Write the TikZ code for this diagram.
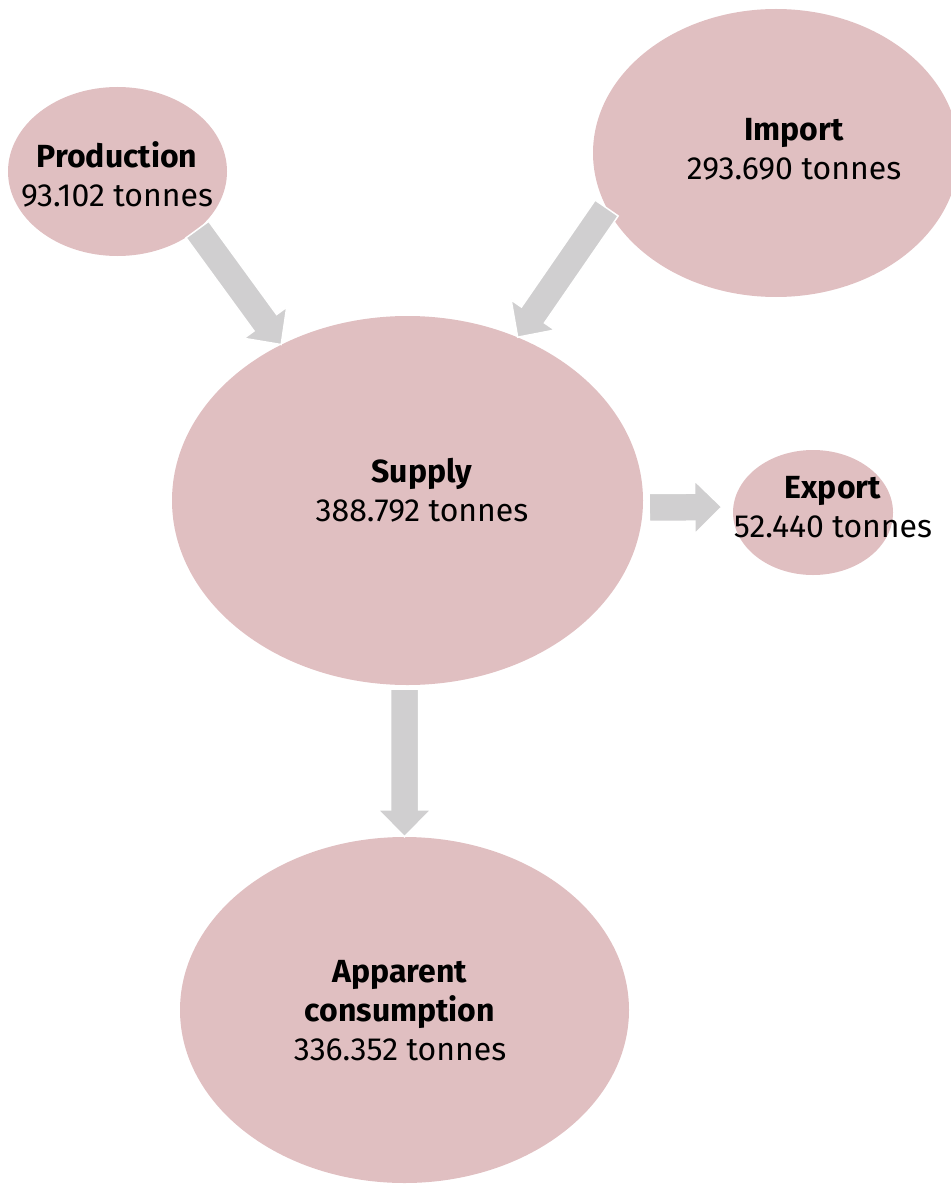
\documentclass[tikz,border=0pt]{standalone}
\usepackage{fontspec}
\setmainfont{Fira Sans}
\usetikzlibrary{shapes.geometric,calc}

\definecolor{bubblepink}{HTML}{E0BFC1}
\definecolor{flowgrey}{HTML}{D0CFD0}

\newcommand\flowarrow[2]{%
  \coordinate (hb) at ($(#2)!27pt!(#1)$);
  \fill[flowgrey,draw=white,line width=1.5pt]
    ($(#1)!14pt!90:(hb)$) -- ($(hb)!14pt!-90:(#1)$) -- ($(hb)!26.5pt!-90:(#1)$)
    -- (#2) -- ($(hb)!26.5pt!90:(#1)$) -- ($(hb)!14pt!90:(#1)$)
    -- ($(#1)!14pt!-90:(hb)$) -- cycle;}

\begin{document}
\begin{tikzpicture}[x=1pt,y=-1pt,
    bubble/.style={ellipse,fill=bubblepink,inner sep=0pt},
    caption/.style={align=center,inner sep=0pt,font=\fontsize{32}{39}\selectfont}]
  \useasboundingbox (0,0) rectangle (950,1185);

  \node[bubble,minimum width=219pt,minimum height=169pt] (prod) at (117.5,171.5) {};
  \node[bubble,minimum width=366pt,minimum height=288pt] (imp) at (776,153) {};
  \node[bubble,minimum width=471pt,minimum height=369pt] (sup) at (407.5,500.5) {};
  \node[bubble,minimum width=160pt,minimum height=125pt] (exp) at (813,512.5) {};
  \node[bubble,minimum width=449pt,minimum height=346pt] (cons) at (404.5,1010) {};

  \coordinate (supright) at ([shift={(6,7)}]sup.east);
  \coordinate (expleft) at ([shift={(-11,-5.5)}]exp.west);
  \coordinate (supbottom) at ($(sup.south -| cons.north)+(0,4)$);

  \flowarrow{prod.-36}{sup.129}
  \flowarrow{imp.198}{sup.56}
  \flowarrow{supright}{expleft}
  \flowarrow{supbottom}{cons.north}

  \node[caption] (prodtext) at (117,174) {\textbf{Production}\\93.102 tonnes};
  \node[caption] (imptext) at (794,149) {\textbf{Import}\\293.690 tonnes};
  \node[caption] (suptext) at (422,490) {\textbf{Supply}\\388.792 tonnes};
  \node[caption] (exptext) at (833,507) {\textbf{Export}\\52.440 tonnes};
  \node[caption] (constext) at (400,1011)
    {\textbf{Apparent}\\\textbf{consumption}\\336.352 tonnes};
\end{tikzpicture}
\end{document}
